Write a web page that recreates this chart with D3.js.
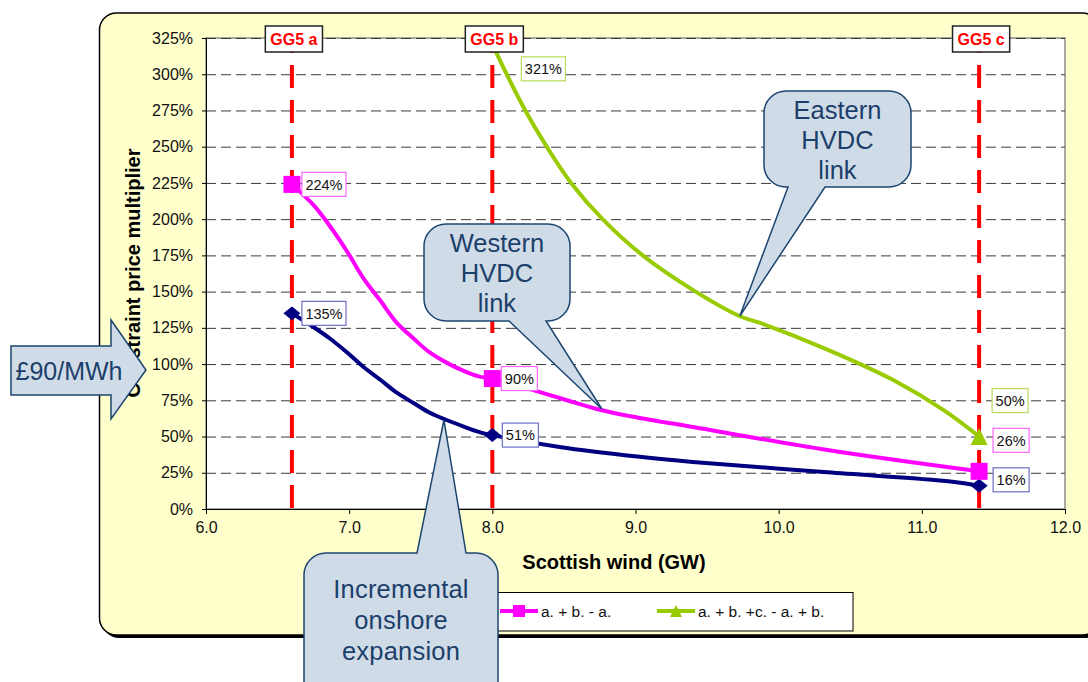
<!DOCTYPE html>
<html>
<head>
<meta charset="utf-8">
<script src="https://cdn.jsdelivr.net/npm/d3@7"></script>
<style>
body { margin: 0; background: #fff; }
svg { display: block; font-family: Arial, "Liberation Sans", sans-serif; }
</style>
</head>
<body>
<script>
const w = 1088;
const h = 682;

// data
const gg5X = [6.6, 8.0, 11.4];
const gg5Names = ["GG5 a", "GG5 b", "GG5 c"];
const xTicks = [6, 7, 8, 9, 10, 11, 12];
const yTicks = [0, 25, 50, 75, 100, 125, 150, 175, 200, 225, 250, 275, 300, 325];
const seriesNames = ["a.", "a. + b. - a.", "a. + b. +c. - a. + b."];
const seriesColors = ["#000080", "#ff00ff", "#99cc00"];
const labelBorders = ["#6e6ec8", "#ff66ff", "#b8db5c"];

const navyX = [6.6, 6.75, 6.87, 6.99, 7.10, 7.22, 7.33, 7.45, 7.56, 7.68, 7.80, 7.91, 8.0, 8.47, 9.03, 9.40, 10.34, 11.2, 11.4];
const navyY = [135, 125.6, 117.3, 107.6, 98, 89, 80.4, 73.1, 66.6, 61.4, 56.9, 53.1, 51, 42.8, 36, 32.5, 25.3, 19, 16];
const pinkX = [6.6, 6.75, 6.87, 6.99, 7.10, 7.22, 7.33, 7.45, 7.56, 7.68, 7.80, 7.91, 8.0, 8.47, 8.75, 9.03, 9.40, 10.34, 11.4];
const pinkY = [224, 209.8, 194.6, 177, 159.2, 143.5, 128.8, 117.6, 108.2, 101, 95.3, 91.3, 90, 76.6, 68.5, 62.8, 56.6, 40.7, 26];
const greenX = [8.0, 8.10, 8.23, 8.38, 8.55, 8.77, 9.05, 9.42, 9.73, 9.87, 10.34, 10.80, 11.15, 11.4];
const greenY = [321, 300, 275, 250, 225, 200, 175, 150, 133, 128.4, 110, 89, 68.4, 50];

// label nudges in px (layout only), one per marker point
const labelNudge = [
  [[10, 0], [10, 0], [14, -6]],
  [[10, 0], [9, 0], [14, -31]],
  [[29, 25], [13, -36]]
];

const seriesX = [navyX, pinkX, greenX];
const seriesY = [navyY, pinkY, greenY];

const plotL = 206, plotR = 1065, plotT = 38, plotB = 509;

const svg = d3.select('body')
  .append('svg')
  .attr('width', w)
  .attr('height', h);

const xScale = d3.scaleLinear().domain([6, 12]).range([plotL, plotR]);
const yScale = d3.scaleLinear().domain([0, 325]).range([plotB, plotT]);

// outer yellow panel with shadow
svg.append('rect')
  .attr('x', 102).attr('y', 16).attr('width', 1000).attr('height', 622)
  .attr('rx', 17).attr('fill', '#000');
svg.append('rect')
  .attr('x', 99.5).attr('y', 13).attr('width', 1000).attr('height', 622)
  .attr('rx', 17).attr('fill', '#ffffcc').attr('stroke', '#000').attr('stroke-width', 1.5);

// plot area
svg.append('rect')
  .attr('x', plotL).attr('y', plotT).attr('width', plotR - plotL).attr('height', plotB - plotT)
  .attr('fill', '#fff').attr('stroke', '#8c8c8c').attr('stroke-width', 1.5);

// grid
svg.append('g')
  .selectAll('line')
  .data(yTicks.filter(d => d > 0))
  .enter().append('line')
  .attr('x1', plotL).attr('x2', plotR)
  .attr('y1', d => yScale(d) + 0.5).attr('y2', d => yScale(d) + 0.5)
  .attr('stroke', '#3a3a3a')
  .attr('stroke-dasharray', '10,5');

// GG5 red dashed lines
svg.append('g')
  .selectAll('line')
  .data(gg5X)
  .enter().append('line')
  .attr('x1', d => xScale(d)).attr('x2', d => xScale(d))
  .attr('y1', 30).attr('y2', plotB)
  .attr('stroke', '#ff0000')
  .attr('stroke-width', 4)
  .attr('stroke-dasharray', '23,12');

// curves
const line = d3.line()
  .x(d => xScale(d[0]))
  .y(d => yScale(d[1]))
  .curve(d3.curveCatmullRom.alpha(0.5));

const series = seriesX.map((xs, i) => xs.map((x, j) => [x, seriesY[i][j]]));

svg.append('g')
  .selectAll('path')
  .data(series)
  .enter().append('path')
  .attr('d', line)
  .attr('fill', 'none')
  .attr('stroke', (d, i) => seriesColors[i])
  .attr('stroke-width', 4)
  .attr('stroke-linejoin', 'round');

function markerPath(i, s) {
  if (i === 0) return `M0,${-0.41 * s}L${s / 2},0L0,${0.41 * s}L${-s / 2},0Z`;
  if (i === 1) return `M${-s / 2},${-s / 2}h${s}v${s}h${-s}Z`;
  return `M0,${-s / 2}L${s / 2},${s / 2}L${-s / 2},${s / 2}Z`;
}

// markers + value labels
series.forEach((pts, i) => {
  const marks = pts.filter(p => gg5X.includes(p[0]));
  const g = svg.append('g');
  g.selectAll('path')
    .data(marks)
    .enter().append('path')
    .attr('transform', d => `translate(${xScale(d[0])},${yScale(d[1])})`)
    .attr('d', markerPath(i, 17))
    .attr('fill', seriesColors[i]);

  marks.forEach((p, j) => {
    const nx = labelNudge[i][j][0], ny = labelNudge[i][j][1];
    const lx = xScale(p[0]) + nx;
    const ly = yScale(p[1]) + ny;
    const lg = svg.append('g').attr('class', 'value-label');
    const rect = lg.append('rect').attr('fill', '#fff')
      .attr('stroke', labelBorders[i]).attr('stroke-width', 1.2);
    const t = lg.append('text')
      .attr('x', lx + 3.5).attr('y', ly)
      .attr('dy', '0.36em')
      .attr('font-size', 14.5)
      .attr('fill', '#111')
      .text(Math.round(p[1]) + '%');
    const tw = t.node().getComputedTextLength();
    rect.attr('x', lx).attr('y', ly - 12).attr('width', tw + 7).attr('height', 24);
  });
});

// GG5 labels
gg5X.forEach((x, i) => {
  const g = svg.append('g');
  const rect = g.append('rect').attr('fill', '#fff').attr('stroke', '#222').attr('stroke-width', 1.5);
  const t = g.append('text')
    .attr('x', xScale(x) + 2).attr('y', 39)
    .attr('dy', '0.36em')
    .attr('text-anchor', 'middle')
    .attr('font-size', 16).attr('font-weight', 'bold')
    .attr('fill', '#ff0000')
    .text(gg5Names[i]);
  const tw = t.node().getComputedTextLength();
  rect.attr('x', xScale(x) + 2 - tw / 2 - 5).attr('y', 26).attr('width', tw + 10).attr('height', 26);
});

// axes
const xAxis = d3.axisBottom(xScale).tickValues(xTicks).tickFormat(d3.format('.1f')).tickSize(5).tickPadding(8);
const yAxis = d3.axisLeft(yScale).tickValues(yTicks).tickFormat(d => d + '%').tickSize(4).tickPadding(9);

svg.append('g')
  .attr('transform', 'translate(0,' + plotB + ')')
  .call(xAxis)
  .attr('font-family', null)
  .attr('font-size', 16)
  .call(g => g.select('.domain').attr('stroke', '#000'))
  .selectAll('text').attr('fill', '#111');

svg.append('g')
  .attr('transform', 'translate(' + plotL + ',0)')
  .call(yAxis)
  .attr('font-family', null)
  .attr('font-size', 16)
  .call(g => g.select('.domain').attr('stroke', '#000'))
  .selectAll('text').attr('fill', '#111');

// axis titles
svg.append('text')
  .attr('x', 614).attr('y', 569)
  .attr('text-anchor', 'middle')
  .attr('font-size', 20).attr('font-weight', 'bold')
  .attr('fill', '#000')
  .text('Scottish wind (GW)');

svg.append('text')
  .attr('transform', 'translate(140,273) rotate(-90)')
  .attr('text-anchor', 'middle')
  .attr('font-size', 20).attr('font-weight', 'bold')
  .attr('fill', '#000')
  .text('Constraint price multiplier');

// legend (first entry sits behind the callout in the original, so only the visible ones)
const legend = svg.append('g');
legend.append('rect')
  .attr('x', 330).attr('y', 592.5).attr('width', 523).attr('height', 38.5)
  .attr('fill', '#fff').attr('stroke', '#000');
const legendX = [343, 500, 657];
seriesNames.forEach((name, i) => {
  if (i === 0) return;
  const lx = legendX[i];
  legend.append('line')
    .attr('x1', lx).attr('x2', lx + 38).attr('y1', 611).attr('y2', 611)
    .attr('stroke', seriesColors[i]).attr('stroke-width', 4);
  legend.append('path')
    .attr('transform', `translate(${lx + 19},611)`)
    .attr('d', markerPath(i, 12))
    .attr('fill', seriesColors[i]);
  legend.append('text')
    .attr('x', lx + 41).attr('y', 617)
    .attr('font-size', 15.5).attr('fill', '#111')
    .text(name);
});

// callouts
const calloutFill = '#cfdbe6', calloutStroke = '#1c4670', calloutText = '#1c3f6b';

function callout(box, side, base, tip, lines, firstY, gap, spacing) {
  const x0 = box[0], y0 = box[1], x1 = box[2], y1 = box[3], r = 22;
  const tx = xScale(tip[0]), ty = yScale(tip[1]);
  let d = `M${x0 + r},${y0}`;
  if (side === 'top') d += `L${base[0]},${y0}L${tx},${ty}L${base[1]},${y0}`;
  d += `L${x1 - r},${y0}A${r},${r} 0 0 1 ${x1},${y0 + r}`;
  d += `L${x1},${y1 - r}A${r},${r} 0 0 1 ${x1 - r},${y1}`;
  if (side === 'bottom') d += `L${base[1]},${y1}L${tx},${ty}L${base[0]},${y1}`;
  d += `L${x0 + r},${y1}A${r},${r} 0 0 1 ${x0},${y1 - r}`;
  d += `L${x0},${y0 + r}A${r},${r} 0 0 1 ${x0 + r},${y0}Z`;
  const g = svg.append('g');
  g.append('path').attr('d', d)
    .attr('fill', calloutFill).attr('stroke', calloutStroke).attr('stroke-width', 1.5);
  lines.forEach((s, k) => {
    g.append('text')
      .attr('x', (x0 + x1) / 2).attr('y', firstY + k * gap)
      .attr('dy', '0.36em')
      .attr('text-anchor', 'middle')
      .attr('font-size', 25.5)
      .attr('letter-spacing', spacing || 0)
      .attr('fill', calloutText)
      .text(s);
  });
}

callout([424, 224, 570, 321], 'bottom', [509, 546], [8.765, 69], ['Western', 'HVDC', 'link'], 243, 30);
callout([764, 91, 911, 187], 'bottom', [788, 825], [9.729, 133.2], ['Eastern', 'HVDC', 'link'], 110, 30);
callout([304, 553, 498, 740], 'top', [417, 466], [7.662, 61.4], ['Incremental', 'onshore', 'expansion'], 589, 31, 0.2);

// £90/MWh arrow
svg.append('path')
  .attr('d', 'M11,346L111,346L111,320L146,370L111,419L111,395L11,395Z')
  .attr('fill', calloutFill).attr('stroke', calloutStroke).attr('stroke-width', 1.5);
svg.append('text')
  .attr('x', 69).attr('y', 371)
  .attr('dy', '0.36em')
  .attr('text-anchor', 'middle')
  .attr('font-size', 25)
  .attr('fill', calloutText)
  .text('£90/MWh');
</script>
</body>
</html>
